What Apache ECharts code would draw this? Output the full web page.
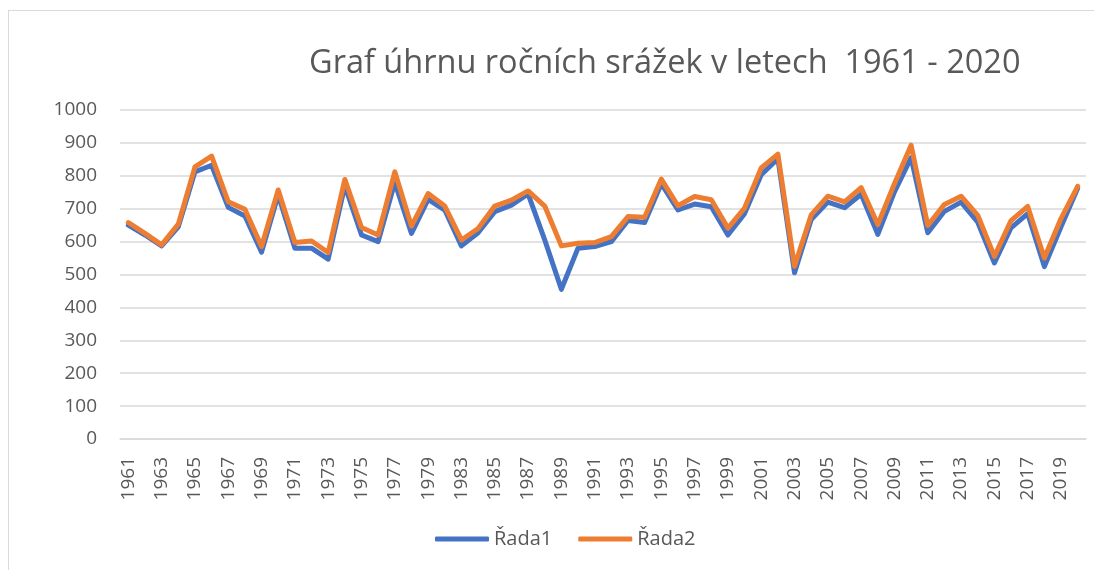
<!DOCTYPE html>
<html>
<head>
<meta charset="utf-8">
<script src="https://cdn.jsdelivr.net/npm/echarts@6/dist/echarts.min.js"></script>
<style>
  html, body { margin: 0; padding: 0; background: #fff; overflow: hidden; }
  #frame { position: absolute; left: 8px; top: 10px; width: 1100px; height: 600px; border: 1px solid #d9d9d9; }
  #chart { position: absolute; left: 0; top: 0; width: 1094px; height: 570px; }
</style>
</head>
<body>
<div id="frame"></div>
<div id="chart"></div>
<script>
// roky (1981 a 1982 v datech chybi)
const years = ['1961', '1962', '1963', '1964', '1965', '1966', '1967', '1968', '1969', '1970',
  '1971', '1972', '1973', '1974', '1975', '1976', '1977', '1978', '1979', '1980',
  '1983', '1984', '1985', '1986', '1987', '1988', '1989', '1990', '1991', '1992',
  '1993', '1994', '1995', '1996', '1997', '1998', '1999', '2000', '2001', '2002',
  '2003', '2004', '2005', '2006', '2007', '2008', '2009', '2010', '2011', '2012',
  '2013', '2014', '2015', '2016', '2017', '2018', '2019', '2020']

const rada1 = [650, 620, 587, 645, 812, 832, 704, 678, 568, 742,
  580, 580, 547, 770, 620, 600, 780, 625, 728, 696,
  587, 627, 691, 711, 745, 605, 455, 580, 585, 600,
  664, 658, 776, 696, 714, 706, 620, 685, 803, 852,
  505, 667, 720, 703, 744, 622, 751, 855, 627, 692,
  720, 659, 535, 642, 685, 524, 645, 762]

const rada2 = [658, 625, 590, 653, 827, 860, 721, 698, 585, 757,
  597, 602, 567, 789, 643, 620, 812, 647, 746, 708,
  605, 640, 708, 726, 754, 708, 587, 595, 597, 615,
  676, 674, 790, 709, 737, 727, 641, 702, 824, 866,
  525, 681, 738, 721, 764, 652, 776, 893, 649, 713,
  738, 680, 555, 664, 707, 550, 670, 768]

const yTicks = { min: 0, max: 1000, step: 100 }

const chartDom = document.getElementById('chart')
const chart = echarts.init(chartDom, null, { renderer: 'canvas' })

const textColor = '#595959'
const font = 'Open Sans'

const option = {
  animation: false,
  title: {
    text: 'Graf úhrnu ročních srážek v letech  1961 - 2020',
    left: 304,
    top: 42,
    textStyle: {
      fontFamily: font,
      fontSize: 32.5,
      fontWeight: 'normal',
      color: textColor
    }
  },
  legend: {
    bottom: 16,
    left: 430,
    icon: 'roundRect',
    itemWidth: 54,
    itemHeight: 5,
    itemGap: 26,
    textStyle: {
      fontFamily: font,
      fontSize: 20,
      color: textColor
    },
    data: ['Řada1', 'Řada2']
  },
  grid: {
    left: 120,
    right: 8,
    top: 110,
    bottom: 131
  },
  xAxis: {
    type: 'category',
    data: years,
    boundaryGap: true,
    axisLine: { lineStyle: { color: '#d9d9d9', width: 1.5 } },
    axisTick: { show: false },
    axisLabel: {
      interval: 1,
      rotate: 90,
      margin: 18,
      fontFamily: font,
      fontSize: 19,
      color: textColor
    }
  },
  yAxis: {
    type: 'value',
    min: yTicks.min,
    max: yTicks.max,
    interval: yTicks.step,
    axisLine: { show: false },
    axisTick: { show: false },
    axisLabel: {
      margin: 23,
      fontFamily: font,
      fontSize: 19,
      color: textColor,
      formatter: (v) => String(v)
    },
    splitLine: { lineStyle: { color: '#d9d9d9', width: 1.5 } }
  },
  series: [
    {
      name: 'Řada1',
      type: 'line',
      data: rada1,
      symbol: 'none',
      color: '#4472C4',
      lineStyle: { width: 5, color: '#4472C4', cap: 'round', join: 'round' }
    },
    {
      name: 'Řada2',
      type: 'line',
      data: rada2,
      symbol: 'none',
      color: '#ED7D31',
      lineStyle: { width: 5, color: '#ED7D31', cap: 'round', join: 'round' }
    }
  ]
}

chart.setOption(option)
</script>
</body>
</html>
